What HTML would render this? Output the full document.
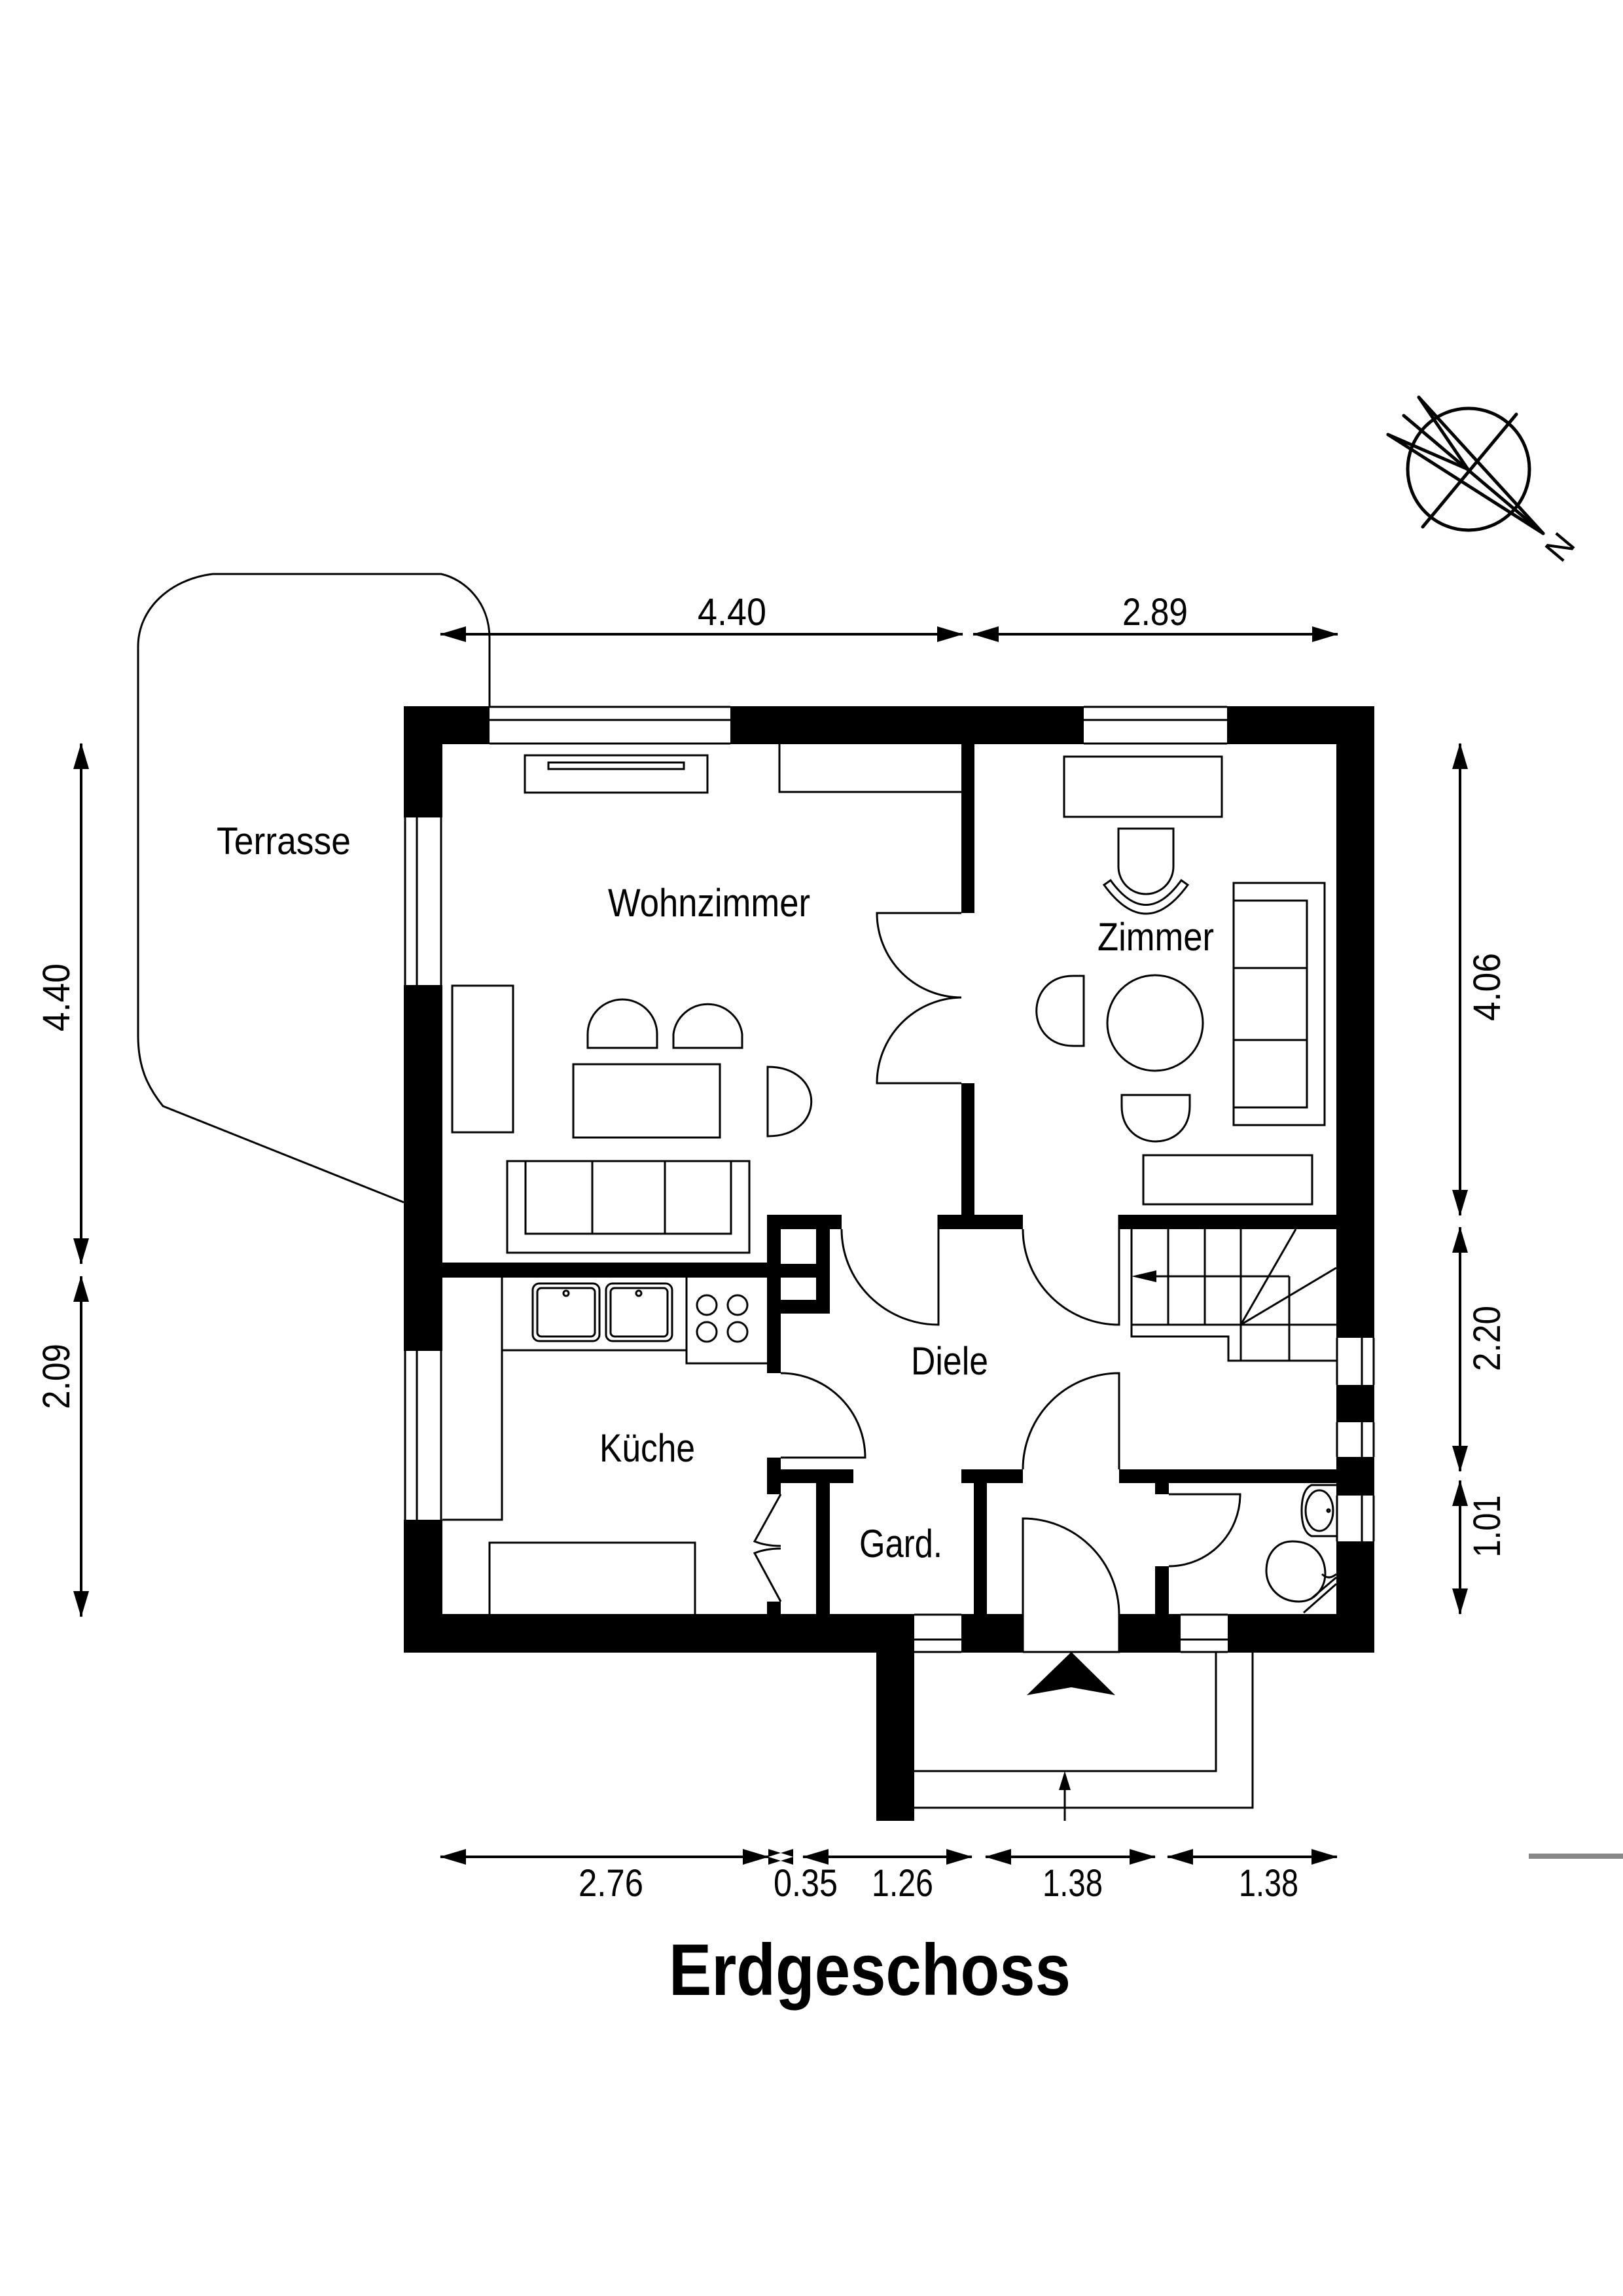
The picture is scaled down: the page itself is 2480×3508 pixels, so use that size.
<!DOCTYPE html>
<html><head><meta charset="utf-8"><style>
html,body{margin:0;padding:0;background:#fff}
svg{display:block}
text{font-family:"Liberation Sans",Arial,sans-serif;fill:#000}
</style></head><body>
<svg width="2480" height="3508" viewBox="0 0 2480 3508" xmlns="http://www.w3.org/2000/svg">
<defs>
<marker id="a" viewBox="0 0 40 24" refX="39" refY="12" markerWidth="40" markerHeight="24" markerUnits="userSpaceOnUse" orient="auto-start-reverse"><path d="M0,0 L40,12 L0,24 Z" fill="#000"/></marker>
</defs>
<rect width="2480" height="3508" fill="#fff"/>

<path d="M748,1079 L748,975 C748,920 710,885 674,877 L325,877 C260,885 211,930 211,988 L211,1582 C211,1630 225,1660 249,1690 L617,1837" fill="none" stroke="#000" stroke-width="3"/>

<g fill="#000">
<rect x="617" y="1079" width="131" height="58"/>
<rect x="1116" y="1079" width="540" height="58"/>
<rect x="1875" y="1079" width="225" height="58"/>
<rect x="617" y="1079" width="59" height="170"/>
<rect x="617" y="1505" width="59" height="559"/>
<rect x="617" y="2322" width="59" height="203"/>
<rect x="2042" y="1079" width="58" height="965"/>
<rect x="2042" y="2116" width="58" height="57"/>
<rect x="2042" y="2226" width="58" height="59"/>
<rect x="2042" y="2355" width="58" height="170"/>
<rect x="617" y="2466" width="780" height="59"/>
<rect x="1469" y="2466" width="94" height="59"/>
<rect x="1710" y="2466" width="94" height="59"/>
<rect x="1876" y="2466" width="224" height="59"/>
<rect x="1339" y="2524" width="58" height="258"/>

<rect x="1469" y="1137" width="20" height="258"/>
<rect x="1469" y="1655" width="20" height="223"/>
<rect x="1434" y="1856" width="129" height="22"/>
<rect x="1710" y="1856" width="332" height="22"/>
<rect x="1172" y="1856" width="114" height="22"/>
<rect x="676" y="1929" width="517" height="23"/>
<rect x="1172" y="1856" width="21" height="242"/>
<rect x="1247" y="1878" width="21" height="129"/>
<rect x="1193" y="1986" width="75" height="21"/>
<rect x="1193" y="1931" width="54" height="21"/>
<rect x="1172" y="2227" width="21" height="56"/>
<rect x="1172" y="2447" width="21" height="19"/>
<rect x="1193" y="2245" width="111" height="21"/>
<rect x="1247" y="2266" width="21" height="200"/>
<rect x="1469" y="2245" width="94" height="21"/>
<rect x="1488" y="2266" width="20" height="200"/>
<rect x="1710" y="2245" width="332" height="21"/>
<rect x="1765" y="2266" width="21" height="17"/>
<rect x="1765" y="2393" width="21" height="73"/>
</g>

<g fill="none" stroke="#000" stroke-width="3">
<path d="M748,1080 H1116 M748,1100 H1116 M748,1136 H1116"/>
<path d="M1656,1080 H1875 M1656,1100 H1875 M1656,1136 H1875"/>
<path d="M619,1249 V1505 M637,1249 V1505 M674,1249 V1505"/>
<path d="M619,2064 V2322 M637,2064 V2322 M674,2064 V2322"/>
<path d="M2043,2044 V2116 M2081,2044 V2116 M2099,2044 V2116"/>
<path d="M2043,2173 V2226 M2081,2173 V2226 M2099,2173 V2226"/>
<path d="M2043,2285 V2355 M2081,2285 V2355 M2099,2285 V2355"/>
<path d="M1397,2467 H1469 M1397,2505 H1469 M1397,2524 H1469"/>
<path d="M1804,2467 H1876 M1804,2505 H1876 M1804,2524 H1876"/>
<path d="M1563,2524 V2320 A147,147 0 0 1 1710,2466 V2524 H1563"/>
<path d="M1397,2706 H1858 V2524 M1397,2762 H1914 V2524"/>
<path d="M1627,2782 V2730"/>

<rect x="802" y="1154" width="279" height="57"/>
<rect x="838" y="1165" width="207" height="10"/>
<path d="M1191,1137 V1210 H1469"/>
<rect x="691" y="1506" width="93" height="224"/>
<path d="M898,1601 H1004 V1580 A53,53 0 0 0 898,1580 Z"/>
<path d="M1029,1601 H1134 V1580 A53,53 0 0 0 1029,1580 Z"/>
<rect x="876" y="1626" width="224" height="112"/>
<path d="M1173,1630 V1736 C1262,1736 1262,1630 1173,1630 Z"/>
<rect x="775" y="1774" width="370" height="140"/>
<rect x="803" y="1774" width="314" height="111"/>
<path d="M905,1774 V1885 M1016,1774 V1885"/>
<path d="M1469,1395 H1340 A129,129 0 0 0 1469,1524"/>
<path d="M1469,1655 H1340 A131,131 0 0 1 1469,1524"/>

<rect x="1626" y="1156" width="241" height="92"/>
<path d="M1709,1266 H1793 V1324 A42,42 0 0 1 1709,1324 Z"/>
<path d="M1687,1352 Q1751,1440 1815,1352 L1805,1345 Q1751,1420 1697,1345 Z"/>
<path d="M1656,1491 V1598 H1640 C1565,1598 1565,1491 1640,1491 Z"/>
<circle cx="1765" cy="1563" r="73"/>
<path d="M1714,1673 H1818 V1690 C1818,1762 1714,1762 1714,1690 Z"/>
<rect x="1885" y="1349" width="139" height="370"/>
<path d="M1885,1376 H1997 V1692 H1885 M1885,1479 H1997 M1885,1589 H1997"/>
<rect x="1747" y="1765" width="258" height="75"/>

<path d="M1434,1856 V2024 A148,146 0 0 1 1286,1878"/>
<path d="M1710,1856 V2024 A147,146 0 0 1 1563,1878"/>
<path d="M1193,2098 A129,129 0 0 1 1322,2227 H1193"/>
<path d="M1563,2245 A147,147 0 0 1 1710,2098 V2245"/>
<path d="M1786,2283 H1895 A109,110 0 0 1 1786,2393"/>
<path d="M1193,2283 L1153,2355 Q1170,2362 1193,2362 M1193,2366 Q1170,2366 1153,2373 L1193,2447"/>

<path d="M1729,1878 V2042 H1877 V2079 H2042 M1729,2024 H2042 M1785,1878 V2024 M1841,1878 V2024 M1896,1878 V2079 M1970,1950 V2079 M1767,1950 H1970"/>
<path d="M1896,2024 L1980,1878 M1896,2024 L2042,1937"/>

<path d="M767,1952 V2322 H676 M767,2063 H1049 M1049,1952 V2083 H1172"/>
<rect x="814" y="1961" width="102" height="88" rx="10"/>
<rect x="821" y="1968" width="88" height="74" rx="6"/>
<rect x="926" y="1961" width="101" height="88" rx="10"/>
<rect x="933" y="1968" width="87" height="74" rx="6"/>
<circle cx="865" cy="1976" r="4"/><circle cx="976" cy="1976" r="4"/>
<circle cx="1080" cy="1994" r="15"/><circle cx="1127" cy="1994" r="15"/>
<circle cx="1080" cy="2035" r="15"/><circle cx="1127" cy="2035" r="15"/>
<path d="M748,2466 V2357 H1062 V2466"/>

<path d="M2042,2269 H2004 Q1989,2276 1989,2308 Q1989,2340 2004,2347 H2042"/>
<ellipse cx="2016" cy="2308" rx="21" ry="31"/>
<circle cx="2030" cy="2308" r="2"/>
<path d="M1975,2355 C2010,2355 2025,2380 2025,2405 C2025,2425 2010,2447 1985,2447 C1955,2447 1935,2425 1935,2400 C1935,2375 1950,2355 1975,2355 Z"/>
<path d="M2003,2443 L2042,2410 M1992,2464 L2042,2420 M2020,2405 Q2030,2415 2042,2405"/>
</g>

<path d="M1729,1950 L1767,1941 L1767,1959 Z" fill="#000"/>
<path d="M1637,2524 L1569,2590 L1637,2578 L1704,2590 Z" fill="#000"/>
<path d="M1627,2706 L1618,2735 L1636,2735 Z" fill="#000"/>

<g stroke="#000" stroke-width="4" fill="none" marker-start="url(#a)" marker-end="url(#a)">
<line x1="673" y1="969" x2="1471" y2="969"/>
<line x1="1487" y1="969" x2="2044" y2="969"/>
<line x1="124" y1="1136" x2="124" y2="1931"/>
<line x1="124" y1="1950" x2="124" y2="2470"/>
<line x1="2231" y1="1136" x2="2231" y2="1857"/>
<line x1="2231" y1="1875" x2="2231" y2="2248"/>
<line x1="2231" y1="2262" x2="2231" y2="2466"/>
<line x1="673" y1="2837" x2="1174" y2="2837"/>
<line x1="1227" y1="2837" x2="1485" y2="2837"/>
<line x1="1506" y1="2837" x2="1765" y2="2837"/>
<line x1="1784" y1="2837" x2="2043" y2="2837"/>
</g>
<path d="M1174,2837 L1135,2825 L1135,2849 Z M1174,2837 L1212,2825 L1212,2849 Z M1212,2837 L1174,2825 L1174,2849 Z" fill="#000"/>
<rect x="2336" y="2832" width="144" height="8" fill="#888"/>

<g stroke="#000" stroke-width="5" fill="none" stroke-linecap="round">
<circle cx="2244" cy="717" r="93"/>
<line x1="2174" y1="805" x2="2317" y2="633"/>
<line x1="2168" y1="607" x2="2358" y2="815"/>
<line x1="2145" y1="635" x2="2358" y2="815"/>
<line x1="2121" y1="664" x2="2358" y2="815"/>
<line x1="2121" y1="664" x2="2243" y2="717"/>
<line x1="2168" y1="607" x2="2243" y2="717"/>
</g>
<text x="2385" y="853" font-size="52" text-anchor="middle" transform="rotate(-50 2385 837)">N</text>

<text x="331" y="1305" font-size="58" textLength="205" lengthAdjust="spacingAndGlyphs">Terrasse</text>
<text x="929" y="1400" font-size="60" textLength="309" lengthAdjust="spacingAndGlyphs">Wohnzimmer</text>
<text x="1677" y="1452" font-size="60" textLength="178" lengthAdjust="spacingAndGlyphs">Zimmer</text>
<text x="916" y="2233" font-size="60" textLength="146" lengthAdjust="spacingAndGlyphs">Küche</text>
<text x="1392" y="2100" font-size="60" textLength="118" lengthAdjust="spacingAndGlyphs">Diele</text>
<text x="1313" y="2379" font-size="60" textLength="127" lengthAdjust="spacingAndGlyphs">Gard.</text>

<text x="1066" y="955" font-size="58" textLength="105" lengthAdjust="spacingAndGlyphs">4.40</text>
<text x="1715" y="955" font-size="58" textLength="100" lengthAdjust="spacingAndGlyphs">2.89</text>
<text x="884" y="2897" font-size="58" textLength="99" lengthAdjust="spacingAndGlyphs">2.76</text>
<text x="1182" y="2897" font-size="58" textLength="98" lengthAdjust="spacingAndGlyphs">0.35</text>
<text x="1332" y="2897" font-size="58" textLength="94" lengthAdjust="spacingAndGlyphs">1.26</text>
<text x="1593" y="2897" font-size="58" textLength="92" lengthAdjust="spacingAndGlyphs">1.38</text>
<text x="1893" y="2897" font-size="58" textLength="91" lengthAdjust="spacingAndGlyphs">1.38</text>

<text transform="translate(106,1524) rotate(-90)" font-size="58" text-anchor="middle" textLength="104" lengthAdjust="spacingAndGlyphs">4.40</text>
<text transform="translate(106,2103) rotate(-90)" font-size="58" text-anchor="middle" textLength="100" lengthAdjust="spacingAndGlyphs">2.09</text>
<text transform="translate(2292,1508) rotate(-90)" font-size="58" text-anchor="middle" textLength="104" lengthAdjust="spacingAndGlyphs">4.06</text>
<text transform="translate(2292,2045) rotate(-90)" font-size="58" text-anchor="middle" textLength="100" lengthAdjust="spacingAndGlyphs">2.20</text>
<text transform="translate(2292,2332) rotate(-90)" font-size="58" text-anchor="middle" textLength="95" lengthAdjust="spacingAndGlyphs">1.01</text>

<text x="1022" y="3048" font-size="111" font-weight="bold" textLength="614" lengthAdjust="spacingAndGlyphs">Erdgeschoss</text>
</svg>
</body></html>
